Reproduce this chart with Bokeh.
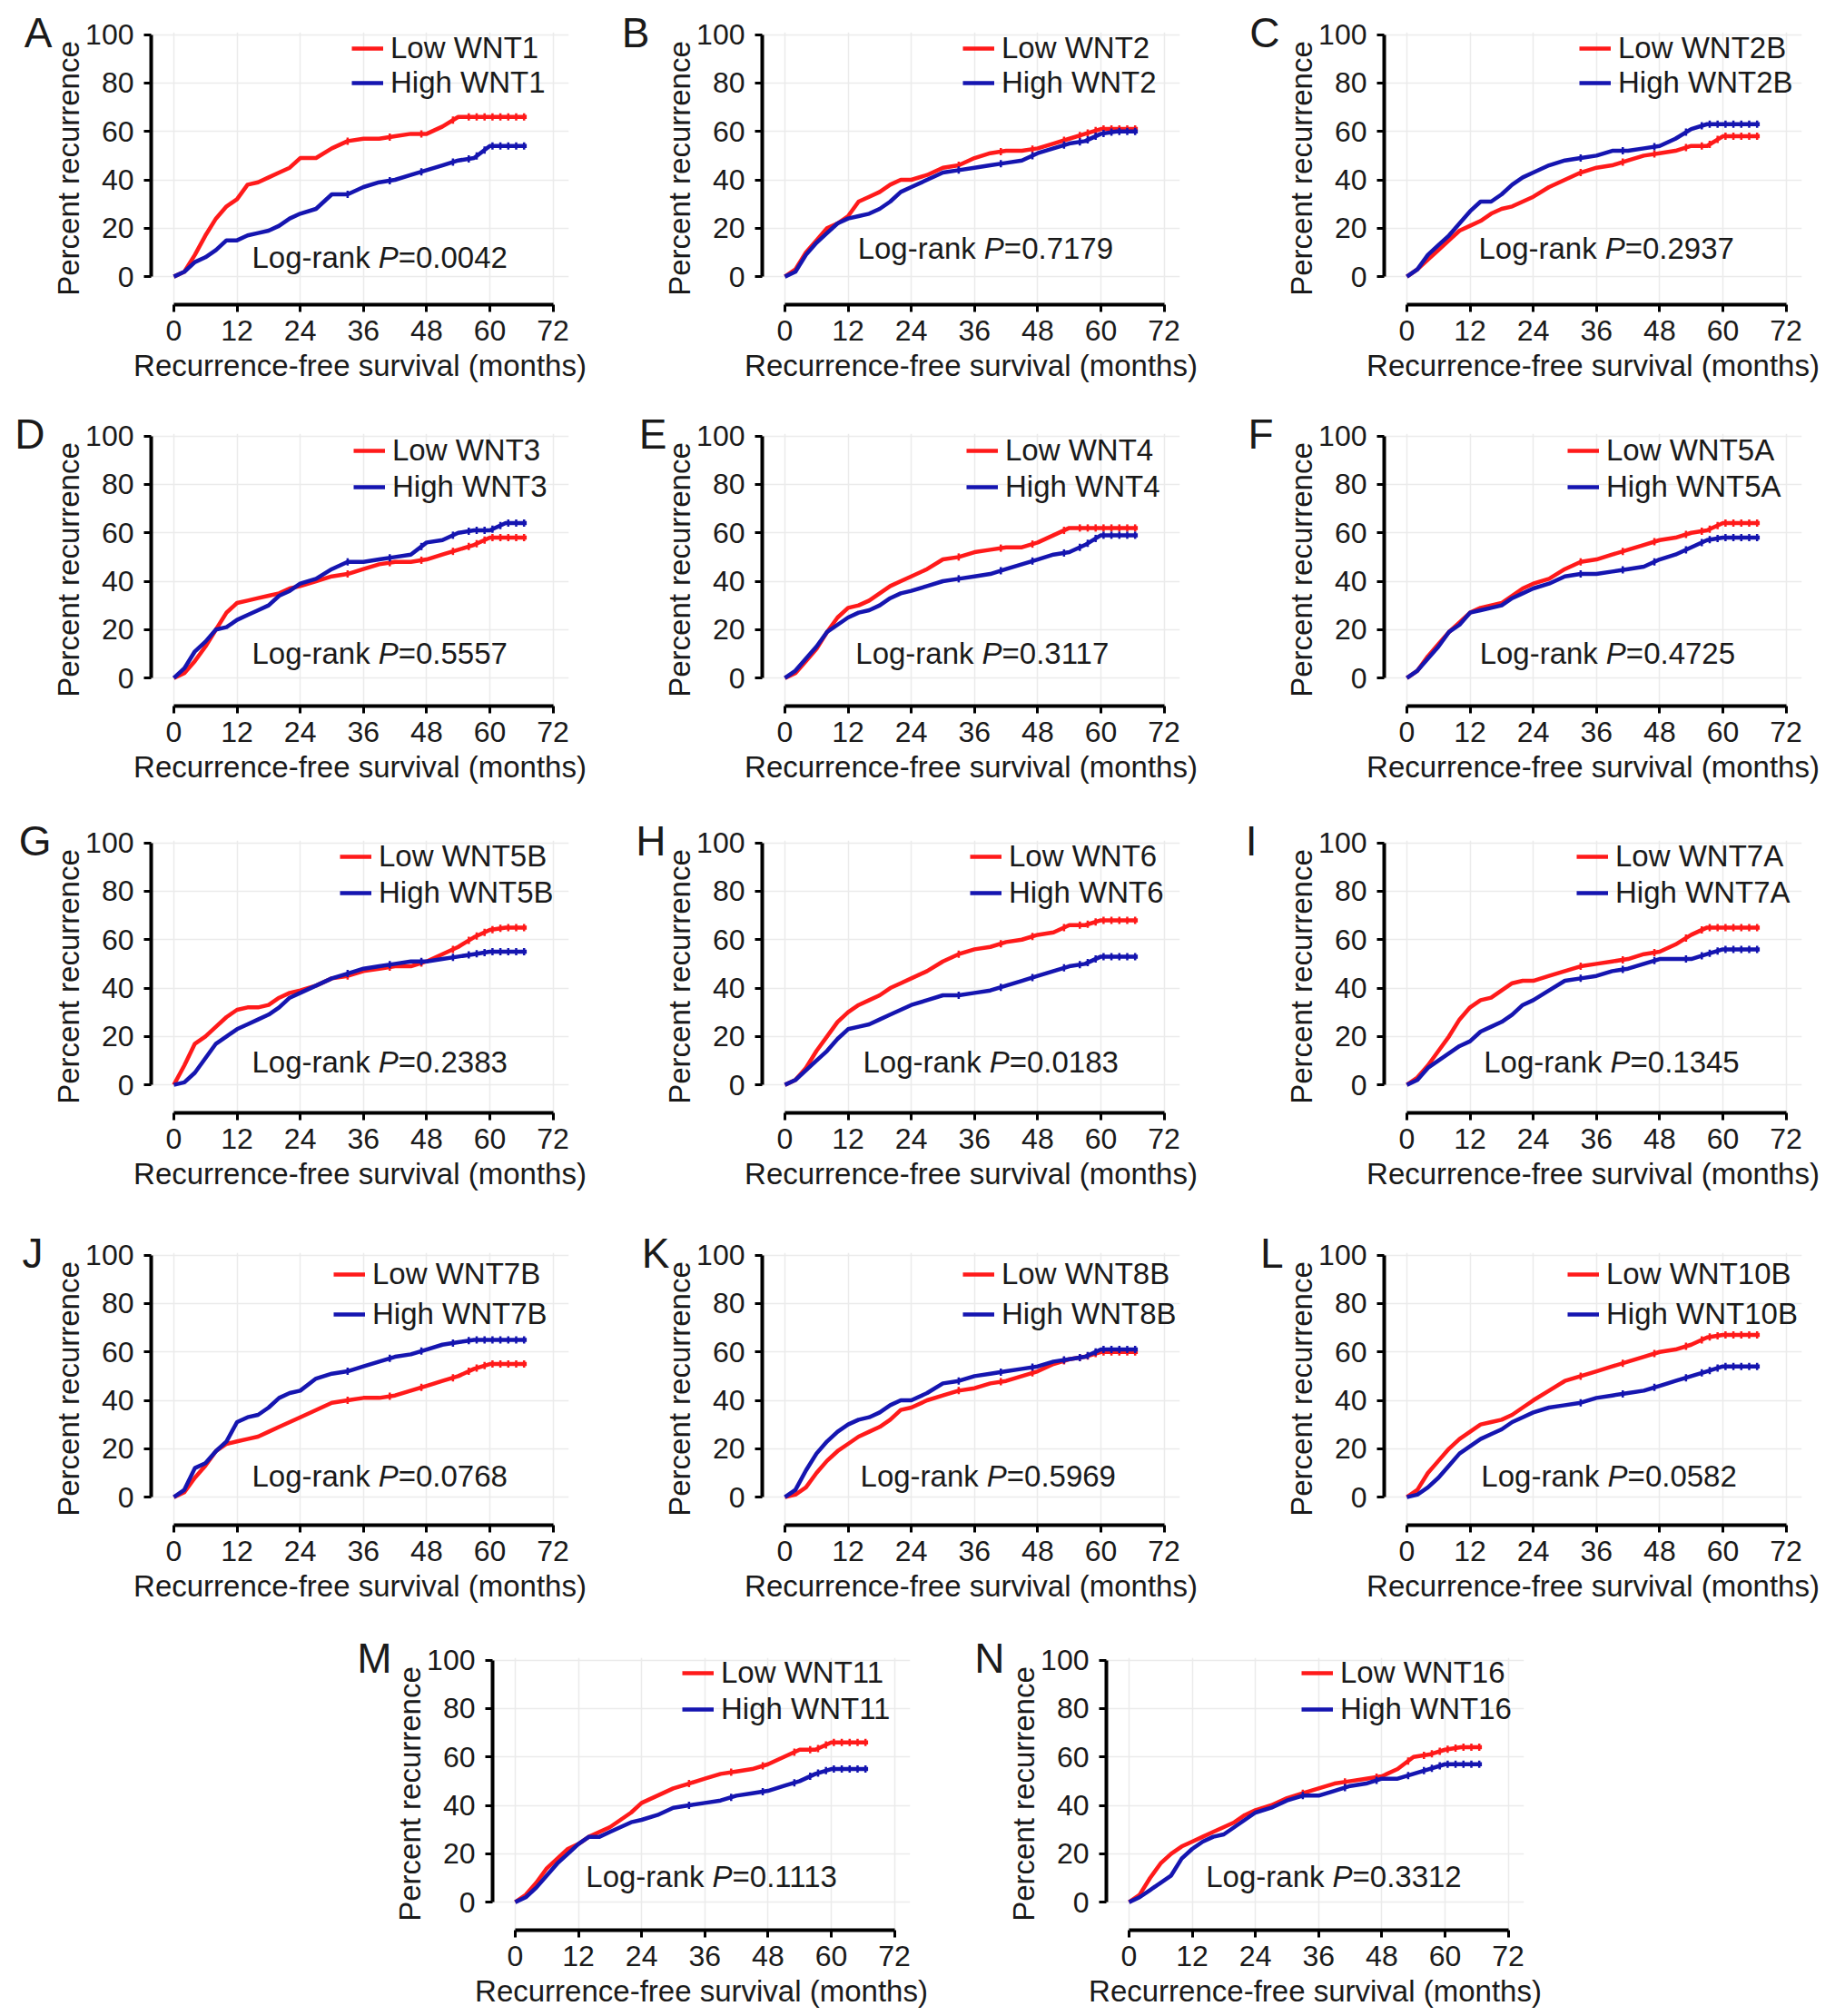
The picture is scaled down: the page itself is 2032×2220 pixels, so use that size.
import math
from bokeh.plotting import figure
from bokeh.models import (Range1d, FixedTicker, Legend, LegendItem, Spacer, LinearAxis,
                          CustomJSTickFormatter)
from bokeh.layouts import row, column
from bokeh.embed import file_html
from bokeh.resources import INLINE
from bokeh.core.properties import value

# ---------------- data ----------------
MONTHS = [0, 2, 4, 6, 8, 10, 12, 14, 16, 18, 20, 22, 24, 27, 30, 33, 36, 39, 42, 45, 48, 51, 54, 57, 60, 63, 67]
CENSOR_MONTHS = [33, 41, 47, 53, 56, 57.5, 59, 60.5, 62, 63.5, 65, 66.5]
X_TICKS = [0, 12, 24, 36, 48, 60, 72]
Y_TICKS = [0, 20, 40, 60, 80, 100]

low_wnt1 = [0, 2, 9, 17, 24, 29, 32, 38, 39, 41, 43, 45, 49, 49, 53, 56, 57, 57, 58, 59, 59, 62, 66, 66, 66, 66, 66]
high_wnt1 = [0, 2, 6, 8, 11, 15, 15, 17, 18, 19, 21, 24, 26, 28, 34, 34, 37, 39, 40, 42, 44, 46, 48, 49, 54, 54, 54]
low_wnt2 = [0, 3, 10, 15, 20, 22, 25, 31, 33, 35, 38, 40, 40, 42, 45, 46, 49, 51, 52, 52, 53, 55, 57, 59, 61, 61, 61]
high_wnt2 = [0, 2, 9, 14, 18, 22, 24, 25, 26, 28, 31, 35, 37, 40, 43, 44, 45, 46, 47, 48, 51, 53, 55, 56, 59, 60, 60]
low_wnt2b = [0, 3, 7, 11, 15, 19, 21, 23, 26, 28, 29, 31, 33, 37, 40, 43, 45, 46, 48, 50, 51, 52, 54, 54, 58, 58, 58]
high_wnt2b = [0, 3, 9, 13, 17, 22, 27, 31, 31, 34, 38, 41, 43, 46, 48, 49, 50, 52, 52, 53, 54, 57, 61, 63, 63, 63, 63]
low_wnt3 = [0, 2, 7, 13, 20, 27, 31, 32, 33, 34, 35, 37, 38, 40, 42, 43, 45, 47, 48, 48, 49, 51, 53, 55, 58, 58, 58]
high_wnt3 = [0, 4, 11, 15, 20, 21, 24, 26, 28, 30, 34, 36, 39, 41, 45, 48, 48, 49, 50, 51, 56, 57, 60, 61, 61, 64, 64]
low_wnt4 = [0, 2, 7, 12, 19, 25, 29, 30, 32, 35, 38, 40, 42, 45, 49, 50, 52, 53, 54, 54, 56, 59, 62, 62, 62, 62, 62]
high_wnt4 = [0, 3, 8, 13, 19, 22, 25, 27, 28, 30, 33, 35, 36, 38, 40, 41, 42, 43, 45, 47, 49, 51, 52, 55, 59, 59, 59]
low_wnt5a = [0, 3, 9, 14, 19, 23, 27, 29, 30, 31, 34, 37, 39, 41, 45, 48, 49, 51, 53, 55, 57, 58, 60, 61, 64, 64, 64]
high_wnt5a = [0, 3, 8, 13, 19, 22, 27, 28, 29, 30, 33, 35, 37, 39, 42, 43, 43, 44, 45, 46, 49, 51, 54, 57, 58, 58, 58]
low_wnt5b = [0, 8, 17, 20, 24, 28, 31, 32, 32, 33, 36, 38, 39, 41, 44, 45, 47, 48, 49, 49, 51, 54, 57, 61, 64, 65, 65]
high_wnt5b = [0, 1, 5, 11, 17, 20, 23, 25, 27, 29, 32, 36, 38, 41, 44, 46, 48, 49, 50, 51, 51, 52, 53, 54, 55, 55, 55]
low_wnt6 = [0, 2, 7, 14, 20, 26, 30, 33, 35, 37, 40, 42, 44, 47, 51, 54, 56, 57, 59, 60, 62, 63, 66, 66, 68, 68, 68]
high_wnt6 = [0, 2, 6, 10, 14, 19, 23, 24, 25, 27, 29, 31, 33, 35, 37, 37, 38, 39, 41, 43, 45, 47, 49, 50, 53, 53, 53]
low_wnt7a = [0, 3, 8, 14, 20, 27, 32, 35, 36, 39, 42, 43, 43, 45, 47, 49, 50, 51, 52, 54, 55, 58, 62, 65, 65, 65, 65]
high_wnt7a = [0, 2, 7, 10, 13, 16, 18, 22, 24, 26, 29, 33, 35, 39, 43, 44, 45, 47, 48, 50, 52, 52, 52, 54, 56, 56, 56]
low_wnt7b = [0, 2, 8, 13, 19, 22, 23, 24, 25, 27, 29, 31, 33, 36, 39, 40, 41, 41, 42, 44, 46, 48, 50, 53, 55, 55, 55]
high_wnt7b = [0, 3, 12, 14, 19, 23, 31, 33, 34, 37, 41, 43, 44, 49, 51, 52, 54, 56, 58, 59, 61, 63, 64, 65, 65, 65, 65]
low_wnt8b = [0, 1, 4, 10, 15, 19, 22, 25, 27, 29, 32, 36, 37, 40, 42, 44, 45, 47, 48, 50, 52, 55, 57, 58, 60, 60, 60]
high_wnt8b = [0, 3, 11, 18, 23, 27, 30, 32, 33, 35, 38, 40, 40, 43, 47, 48, 50, 51, 52, 53, 54, 56, 57, 58, 61, 61, 61]
low_wnt10b = [0, 3, 10, 15, 20, 24, 27, 30, 31, 32, 34, 37, 40, 44, 48, 50, 52, 54, 56, 58, 60, 61, 63, 66, 67, 67, 67]
high_wnt10b = [0, 1, 4, 8, 13, 18, 21, 24, 26, 28, 31, 33, 35, 37, 38, 39, 41, 42, 43, 44, 46, 48, 50, 52, 54, 54, 54]
low_wnt11 = [0, 3, 8, 14, 18, 22, 24, 27, 29, 31, 34, 37, 41, 44, 47, 49, 51, 53, 54, 55, 57, 60, 63, 63, 66, 66, 66]
high_wnt11 = [0, 2, 6, 11, 16, 20, 24, 27, 27, 29, 31, 33, 34, 36, 39, 40, 41, 42, 44, 45, 46, 48, 50, 53, 55, 55, 55]
low_wnt16 = [0, 3, 10, 16, 20, 23, 25, 27, 29, 31, 33, 36, 38, 40, 43, 45, 47, 49, 50, 51, 52, 55, 60, 61, 63, 64, 64]
high_wnt16 = [0, 2, 5, 8, 11, 18, 22, 25, 27, 28, 31, 34, 37, 39, 42, 44, 44, 46, 48, 49, 51, 51, 53, 55, 57, 57, 57]

panel_letters = ["A", "B", "C", "D", "E", "F", "G", "H", "I", "J", "K", "L", "M", "N"]
genes = ["WNT1", "WNT2", "WNT2B", "WNT3", "WNT4", "WNT5A", "WNT5B", "WNT6", "WNT7A", "WNT7B",
         "WNT8B", "WNT10B", "WNT11", "WNT16"]
low_series = [low_wnt1, low_wnt2, low_wnt2b, low_wnt3, low_wnt4, low_wnt5a, low_wnt5b, low_wnt6,
              low_wnt7a, low_wnt7b, low_wnt8b, low_wnt10b, low_wnt11, low_wnt16]
high_series = [high_wnt1, high_wnt2, high_wnt2b, high_wnt3, high_wnt4, high_wnt5a, high_wnt5b, high_wnt6,
               high_wnt7a, high_wnt7b, high_wnt8b, high_wnt10b, high_wnt11, high_wnt16]
p_values = ["0.0042", "0.7179", "0.2937", "0.5557", "0.3117", "0.4725", "0.2383", "0.0183",
            "0.1345", "0.0768", "0.5969", "0.0582", "0.1113", "0.3312"]

# ---------------- layout / style (screen px) ----------------
RED = "#ff1a1a"
BLUE = "#1515b0"
TXT = "#1a1a1a"
FONT = "Liberation Sans"
FRAME_W, FRAME_H = 460, 300
XR = (-4.3, 75)
YR = (-11.6, 101)

logrank_xy = [(39, 8), (38, 11.7), (37.8, 11.7), (39, 10), (37.6, 10), (38, 10), (39, 9.6), (39, 9.6),
              (38.8, 9.6), (39, 8.5), (38.5, 8.5), (38.3, 8.5), (37.6, 10.6), (38.8, 10.6)]
legend_text_left = [264, 264, 258, 266, 268, 245, 251, 272, 255, 244, 264, 245, 252, 258]
# standoff of the panel letter from the y-axis block (px)
letter_standoff = [-3, 12, 3, 5, -7, 10, -2, -6, 28, 7, -10, -1, -1, 0]
rows_cfg = [(35, 442), (35, 448), (35, 454), (35, 446), (35, 428)]
legend_rows = [(18, 36), (16, 40), (15, 40), (21, 44), (14, 40)]
cols_cfg = [(166, 673), (166, 685), (166, 672)]
last_row_cfg = [(166, 676), (166, 676)]
LAST_ROW_SPACER = 376


def make_panel(i, left_border, width, top_border, height, leg_first, leg_step):
    p = figure(frame_width=FRAME_W, frame_height=FRAME_H,
               x_range=Range1d(*XR), y_range=Range1d(*YR),
               min_border_left=left_border, min_border_right=width - left_border - FRAME_W,
               min_border_top=top_border, min_border_bottom=height - top_border - FRAME_H,
               output_backend="svg", toolbar_location=None,
               background_fill_color="white", border_fill_color="white", outline_line_color=None)

    p.xaxis.ticker = FixedTicker(ticks=X_TICKS)
    p.yaxis.ticker = FixedTicker(ticks=Y_TICKS)
    p.xaxis.bounds = (0, 72)
    p.yaxis.bounds = (0, 100)
    p.xaxis.axis_label = "Recurrence-free survival (months)"
    p.yaxis.axis_label = "Percent recurrence"
    for ax in (p.xaxis[0], p.yaxis[0]):
        ax.axis_line_width = 4
        ax.axis_line_color = "black"
        ax.major_tick_line_width = 3
        ax.major_tick_line_color = "black"
        ax.major_tick_out = 8
        ax.major_tick_in = 0
        ax.minor_tick_line_color = None
        ax.major_label_text_font = FONT
        ax.major_label_text_font_size = "32px"
        ax.major_label_text_color = TXT
        ax.axis_label_text_font = FONT
        ax.axis_label_text_font_size = "33px"
        ax.axis_label_text_font_style = "normal"
        ax.axis_label_text_color = TXT
    p.xaxis.major_label_standoff = 9
    p.xaxis.axis_label_standoff = 6
    p.yaxis.major_label_standoff = 11
    p.yaxis.axis_label_standoff = -3

    for g in (p.xgrid[0], p.ygrid[0]):
        g.grid_line_color = "#ebebeb"
        g.grid_line_width = 1.5
    p.xgrid.ticker = FixedTicker(ticks=X_TICKS)
    p.ygrid.ticker = FixedTicker(ticks=Y_TICKS)

    # curves
    items = []
    for label, series, color in (("Low ", low_series[i], RED), ("High ", high_series[i], BLUE)):
        lr = p.line(MONTHS, series, line_color=color, line_width=4.5, line_join="round")
        cx = [c for c in CENSOR_MONTHS if c <= MONTHS[-1]]
        cy = []
        for c in cx:
            k = max(j for j, t in enumerate(MONTHS) if t <= c)
            if k + 1 < len(MONTHS):
                t0, t1 = MONTHS[k], MONTHS[k + 1]
                v0, v1 = series[k], series[k + 1]
                cy.append(v0 + (v1 - v0) * (c - t0) / (t1 - t0))
            else:
                cy.append(series[k])
        cr = p.scatter(cx, cy, marker="dash", angle=math.pi / 2, size=8,
                       line_color=color, line_width=2.5)
        items.append(LegendItem(label=label + genes[i], renderers=[lr, cr]))

    y100 = (YR[1] - 100) / (YR[1] - YR[0]) * FRAME_H
    top_off = y100 + leg_first - leg_step / 2
    leg = Legend(items=items,
                 location=(legend_text_left[i] - 43, FRAME_H - top_off - 2 * leg_step),
                 glyph_width=35, glyph_height=leg_step, label_height=leg_step,
                 label_standoff=8, spacing=0, padding=0, margin=0,
                 border_line_color=None, background_fill_alpha=0,
                 label_text_font=FONT, label_text_font_size="33px", label_text_color=TXT)
    p.add_layout(leg)

    # log-rank annotation
    lx, ly = logrank_xy[i]
    common = dict(text_font=value(FONT), text_font_size="33px", text_color=TXT, text_baseline="middle")
    p.text(x=[lx], y=[ly], text=["Log-rank"], text_align="right", x_offset=-10, **common)
    p.text(x=[lx], y=[ly], text=["P"], text_align="left", x_offset=-1, text_font_style="italic", **common)
    p.text(x=[lx], y=[ly], text=["=" + p_values[i]], text_align="left", x_offset=21, **common)

    # panel letter: the single tick label (at the frame's top) of an invisible outer left axis
    p.extra_y_ranges = {"letter": Range1d(0, 1)}
    lax = LinearAxis(y_range_name="letter", ticker=FixedTicker(ticks=[1]),
                     formatter=CustomJSTickFormatter(code="return '%s';" % panel_letters[i]),
                     axis_line_color=None, major_tick_line_color=None, minor_tick_line_color=None,
                     major_tick_out=0, major_tick_in=0, major_label_standoff=letter_standoff[i],
                     major_label_orientation="horizontal",
                     major_label_text_font=FONT, major_label_text_font_size="46px",
                     major_label_text_color=TXT)
    p.add_layout(lax, "left")
    return p


rows = []
for r in range(4):
    top, h = rows_cfg[r]
    lf, ls = legend_rows[r]
    figs = []
    for c in range(3):
        lb, w = cols_cfg[c]
        figs.append(make_panel(r * 3 + c, lb, w, top, h, lf, ls))
    rows.append(row(*figs))

top, h = rows_cfg[4]
lf, ls = legend_rows[4]
m = make_panel(12, last_row_cfg[0][0], last_row_cfg[0][1], top, h, lf, ls)
n = make_panel(13, last_row_cfg[1][0], last_row_cfg[1][1], top, h, lf, ls)
rows.append(row(Spacer(width=LAST_ROW_SPACER, height=h), m, n))

layout = column(*rows)
open("out.html", "w").write(file_html(layout, INLINE, title="WNT recurrence curves"))
